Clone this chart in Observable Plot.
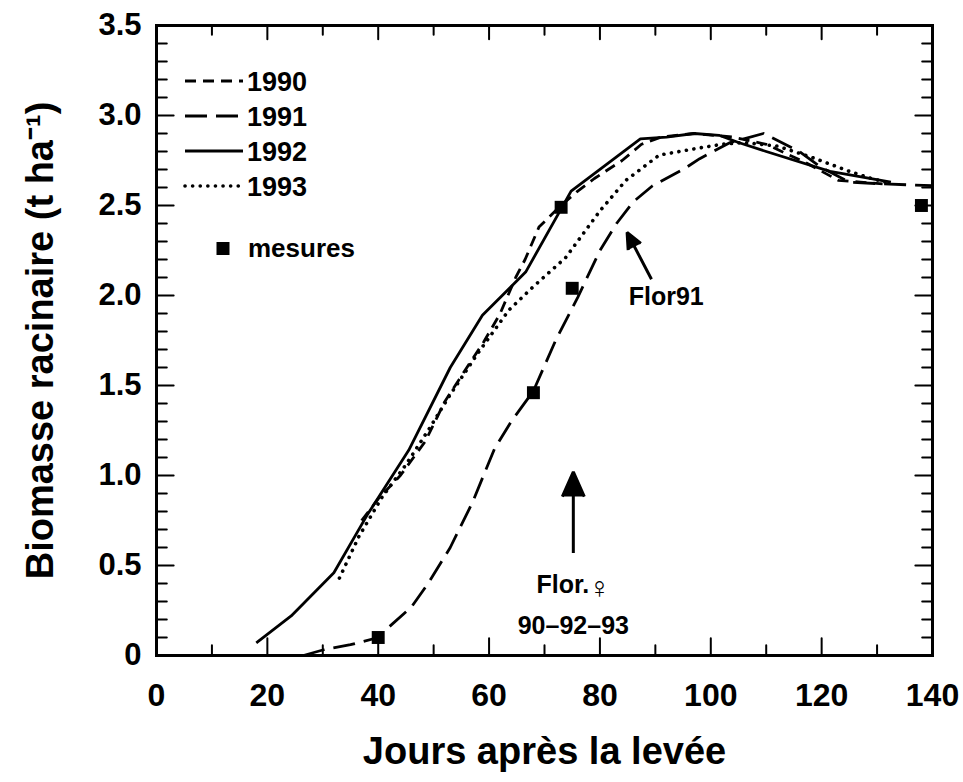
<!DOCTYPE html>
<html>
<head>
<meta charset="utf-8">
<script src="https://cdn.jsdelivr.net/npm/d3@7"></script>
<script src="https://cdn.jsdelivr.net/npm/@observablehq/plot@0.6"></script>
<style>
  html, body { margin: 0; padding: 0; background: #fff; }
  #wrap { position: relative; width: 963px; height: 782px; }
  #legend { position: absolute; left: 0; top: 0; pointer-events: none; }
  text { font-family: "Liberation Sans", Arial, Helvetica, sans-serif; }
</style>
</head>
<body>
<div id="wrap"></div>
<script>
// ---- data (jours après la levée, biomasse t/ha) ----
const years = ["1990", "1991", "1992", "1993"];
const s1990 = [[37,0.75],[40,0.87],[44,1.0],[48.5,1.19],[52,1.41],[56,1.6],[59,1.74],[62,1.9],[64.8,2.1],[66.5,2.2],[69,2.38],[72.6,2.49],[76,2.58],[79,2.65],[84,2.75],[87.5,2.84],[91,2.88],[97,2.9],[104,2.88],[110,2.84],[117,2.74],[123,2.64],[127,2.63],[131,2.62]];
const s1991 = [[26.5,0],[30.5,0.035],[35,0.06],[40,0.1],[42,0.16],[46,0.27],[49,0.4],[53,0.6],[57,0.85],[61,1.15],[64,1.3],[68,1.47],[72,1.75],[76,1.99],[80,2.25],[83,2.4],[86,2.52],[89.5,2.61],[95,2.7],[98,2.76],[103.5,2.85],[109.5,2.9],[116,2.8],[120,2.71],[125,2.63],[131,2.62],[140,2.61]];
const s1992 = [[18,0.07],[24.3,0.22],[32,0.46],[38,0.78],[45.5,1.14],[53,1.6],[58.8,1.89],[66.6,2.13],[74.8,2.58],[87.3,2.87],[92,2.88],[97,2.9],[101.5,2.89],[105,2.85],[110,2.8],[121.5,2.69],[132.5,2.63]];
const s1993 = [[33,0.43],[36.5,0.66],[40.7,0.88],[45,1.06],[49,1.25],[53,1.45],[58,1.68],[63.6,1.92],[68,2.05],[73.8,2.21],[80,2.47],[84.7,2.64],[90.7,2.78],[98,2.82],[102,2.84],[106,2.85],[112,2.83],[118,2.77],[125,2.69],[129,2.65],[131.5,2.63]];
const mesuresJours = [40, 68, 73, 75, 138];
const mesuresBiomasse = [0.1, 1.46, 2.49, 2.04, 2.5];
const xTicks = [0, 20, 40, 60, 80, 100, 120, 140];
const yTicks = [0, 0.5, 1.0, 1.5, 2.0, 2.5, 3.0, 3.5];
const xMinor = d3.range(0, 141, 10);
const yMinor = d3.range(0, 36).map(i => i / 10);
// annotations
const annotTexts = ["Flor91", "Flor.", "\u2640", "90\u201392\u201393"];
const annotX = [85.2, 75.2, 75.2, 75.2];
const annotY = [1.99, 0.39, 0.39, 0.165];
const arrowX1 = [89.3, 75.2], arrowY1 = [2.09, 0.57];
const arrowX2 = [84.9, 75.2], arrowY2 = [2.35, 1.02];

const dashes = {"1990": "11,7", "1991": "22,9", "1992": null, "1993": "0.1,7.5"};
const widths = {"1990": 2.8, "1991": 2.8, "1992": 2.8, "1993": 3.6};
const seriesByYear = {"1990": s1990, "1991": s1991, "1992": s1992, "1993": s1993};

const FONT = '"Liberation Sans", Arial, Helvetica, sans-serif';
const SYMFONT = '"DejaVu Sans", "Liberation Sans", sans-serif';

const lineMarks = years.map(y => Plot.line(seriesByYear[y], {
  x: d => d[0], y: d => d[1], stroke: "black", strokeWidth: widths[y],
  strokeDasharray: dashes[y], strokeLinecap: y === "1993" ? "round" : "butt",
  strokeLinejoin: "round", curve: "linear"
}));

const mesures = mesuresJours.map((j, i) => ({j, b: mesuresBiomasse[i]}));
const annots = annotTexts.map((t, i) => ({t, x: annotX[i], y: annotY[i]}));
const arrows = arrowX1.map((x1, i) => ({x1, y1: arrowY1[i], x2: arrowX2[i], y2: arrowY2[i]}));

const chart = Plot.plot({
  width: 963, height: 782,
  marginLeft: 156, marginRight: 31, marginTop: 25, marginBottom: 127,
  x: {domain: [0, 140]},
  y: {domain: [0, 3.5]},
  style: {fontFamily: FONT, background: "white", color: "black"},
  marks: [
    ...lineMarks,
    Plot.dot(mesures, {x: "j", y: "b", symbol: "square", r: 7.3, fill: "black", stroke: "none"}),
    Plot.arrow(arrows, {x1: "x1", y1: "y1", x2: "x2", y2: "y2", stroke: "black", fill: "black",
      strokeWidth: 3, headLength: 16, headAngle: 48, strokeLinecap: "butt", strokeLinejoin: "miter"}),
    Plot.text(annots.slice(0, 1), {x: "x", y: "y", text: "t", textAnchor: "start", fontSize: 25, fontWeight: "bold", fill: "black"}),
    Plot.text(annots.slice(1, 2), {x: "x", y: "y", text: "t", textAnchor: "end", dx: 16, fontSize: 25, fontWeight: "bold", fill: "black"}),
    Plot.text(annots.slice(2, 3), {x: "x", y: "y", text: "t", textAnchor: "start", dx: 15, dy: 3, fontSize: 30, fontWeight: "bold", fill: "black", fontFamily: SYMFONT}),
    Plot.text(annots.slice(3), {x: "x", y: "y", text: "t", textAnchor: "middle", fontSize: 25, fontWeight: "bold", fill: "black"}),
    // inward ticks, all four sides
    Plot.vectorX(xMinor, {x: d => d, frameAnchor: "bottom", rotate: 0, anchor: "start", length: d => d % 20 === 0 ? 15 : 9, stroke: "black", strokeWidth: 2, shape: "spike", r: 0}),
    Plot.vectorX(xMinor, {x: d => d, frameAnchor: "top", rotate: 180, anchor: "start", length: d => d % 20 === 0 ? 12 : 8, stroke: "black", strokeWidth: 2, shape: "spike", r: 0}),
    Plot.vectorY(yMinor, {y: d => d, frameAnchor: "left", rotate: 90, anchor: "start", length: (d, i) => i % 5 === 0 ? 15 : 9, stroke: "black", strokeWidth: 2, shape: "spike", r: 0}),
    Plot.vectorY(yMinor, {y: d => d, frameAnchor: "right", rotate: -90, anchor: "start", length: (d, i) => i % 5 === 0 ? 15 : 9, stroke: "black", strokeWidth: 2, shape: "spike", r: 0}),
    Plot.frame({stroke: "black", strokeWidth: 3}),
    Plot.axisX(xTicks, {anchor: "bottom", tickSize: 0, tickPadding: 28, fontSize: 32, fontWeight: "bold", label: null}),
    Plot.axisY(yTicks, {anchor: "left", tickSize: 0, tickPadding: 15, fontSize: 31, fontWeight: "bold", label: null,
      tickFormat: d => d === 0 ? "0" : d.toFixed(1)}),
    Plot.text(["Jours après la levée"], {frameAnchor: "bottom", textAnchor: "middle", dy: 108, fontSize: 38, fontWeight: "bold", fill: "black", letterSpacing: "2px"}),
    Plot.text(["Biomasse racinaire (t ha\u207B\u00B9)"], {frameAnchor: "left", textAnchor: "middle", dx: -116, rotate: -90, fontSize: 38, fontWeight: "bold", fill: "black", letterSpacing: "3px"})
  ]
});

const wrap = document.getElementById("wrap");
wrap.appendChild(chart);

// legend overlay (line-style key)
const lg = d3.select(wrap).append("svg").attr("id", "legend").attr("width", 963).attr("height", 782);
const legendY = [81, 116, 151, 186];
years.forEach((y, i) => {
  lg.append("line").attr("x1", 185).attr("x2", 243).attr("y1", legendY[i]).attr("y2", legendY[i])
    .attr("stroke", "black").attr("stroke-width", widths[y])
    .attr("stroke-dasharray", dashes[y]).attr("stroke-linecap", y === "1993" ? "round" : "butt");
  lg.append("text").attr("x", 247).attr("y", legendY[i]).attr("dy", "0.36em")
    .attr("font-size", 27).attr("font-weight", "bold").attr("fill", "black").text(y);
});
lg.append("rect").attr("x", 216.5).attr("y", 242).attr("width", 13).attr("height", 13).attr("fill", "black");
lg.append("text").attr("x", 248).attr("y", 248).attr("dy", "0.36em")
  .attr("font-size", 26).attr("font-weight", "bold").attr("fill", "black").text("mesures");
</script>
</body>
</html>
